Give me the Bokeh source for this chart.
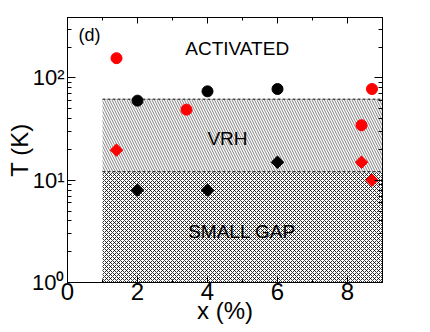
import numpy as np
from bokeh.plotting import figure
from bokeh.models import Range1d, FixedTicker, LinearAxis, LogAxis, Label
from bokeh.embed import file_html
from bokeh.resources import INLINE

# ---- data ----
black_circle_x = [2.0, 4.0, 6.0]
black_circle_T = [60, 74, 78]
red_circle_x = [1.4, 3.4, 8.4, 8.7]
red_circle_T = [156, 49, 34.5, 78]
black_diamond_x = [2.0, 4.0, 6.0]
black_diamond_T = [8, 8, 15]
red_diamond_x = [1.4, 8.4, 8.7]
red_diamond_T = [19.7, 15, 10]

region_x = [1.0, 9.0]
vrh_T = [12.1, 62]
gap_T = [1.0, 12.1]

x_ticks = [0, 2, 4, 6, 8]
x_minor = [1, 3, 5, 7, 9]
x_tick_labels = ["0", "2", "4", "6", "8"]
y_ticks = [1, 10, 100]
y_tick_labels = ["10\u2070", "10\u00b9", "10\u00b2"]
y_minor = [2, 3, 4, 5, 6, 7, 8, 9, 20, 30, 40, 50, 60, 70, 80, 90, 200, 300]

FONT = "Liberation Sans"

p = figure(x_range=Range1d(0, 9), y_range=Range1d(1, 390), y_axis_type="log",
           frame_width=315, frame_height=265,
           min_border_left=67, min_border_right=40, min_border_top=17, min_border_bottom=42,
           output_backend="svg", toolbar_location=None,
           background_fill_color="white", border_fill_color="white")
p.grid.visible = False
p.outline_line_color = "black"
p.outline_line_width = 1

# ---- shaded regions ----
p.quad(left=[region_x[0]], right=[region_x[1]], bottom=[vrh_T[0]], top=[vrh_T[1]],
       fill_color="white", line_color=None,
       hatch_pattern="left_diagonal_line", hatch_color="#808080", hatch_scale=5, hatch_weight=1)
p.quad(left=[region_x[0]], right=[region_x[1]], bottom=[gap_T[0]], top=[gap_T[1]],
       fill_color="white", line_color=None,
       hatch_pattern="diagonal_cross", hatch_color="black", hatch_scale=4, hatch_weight=1,
       hatch_alpha=0.8)
p.segment(x0=[region_x[0], region_x[0]], x1=[region_x[1], region_x[1]],
          y0=[vrh_T[1], gap_T[1]], y1=[vrh_T[1], gap_T[1]],
          line_color="black", line_width=1, line_dash="3 2")

# ---- points ----
p.scatter(black_circle_x, black_circle_T, marker="circle", size=11, color="black")
p.scatter(red_circle_x, red_circle_T, marker="circle", size=11, color="red")
p.scatter(black_diamond_x, black_diamond_T, marker="square", angle=np.pi / 4, size=8.8, color="black")
p.scatter(red_diamond_x, red_diamond_T, marker="square", angle=np.pi / 4, size=8.8, color="red")

# ---- axes ----
def style_axis(ax, major_in, minor_in):
    ax.axis_line_color = "black"
    ax.major_tick_line_color = "black"
    ax.minor_tick_line_color = "black"
    ax.major_tick_in = major_in
    ax.major_tick_out = 0
    ax.minor_tick_in = minor_in
    ax.minor_tick_out = 0

xb = p.xaxis[0]
xb.ticker = FixedTicker(ticks=x_ticks, minor_ticks=x_minor)
xb.major_label_overrides = {t: l for t, l in zip(x_ticks, x_tick_labels)}
xb.major_label_text_font = FONT
xb.major_label_text_font_size = "24px"
xb.major_label_text_color = "black"
xb.major_label_standoff = 0
xb.axis_label = "x (%)"
xb.axis_label_text_font = FONT
xb.axis_label_text_font_style = "normal"
xb.axis_label_text_font_size = "24px"
xb.axis_label_text_color = "black"
xb.axis_label_standoff = -6
style_axis(xb, 6, 3)

yl = p.yaxis[0]
yl.ticker = FixedTicker(ticks=y_ticks, minor_ticks=y_minor)
yl.major_label_overrides = {t: l for t, l in zip(y_ticks, y_tick_labels)}
yl.major_label_text_font = FONT
yl.major_label_text_font_size = "22px"
yl.major_label_text_color = "black"
yl.major_label_standoff = 3
yl.axis_label = "T (K)"
yl.axis_label_text_font = FONT
yl.axis_label_text_font_style = "normal"
yl.axis_label_text_font_size = "24px"
yl.axis_label_text_color = "black"
yl.axis_label_standoff = -4
style_axis(yl, 8, 4)

xt = LinearAxis(ticker=FixedTicker(ticks=x_ticks, minor_ticks=x_minor),
                major_label_overrides={t: "" for t in x_ticks}, major_label_standoff=0)
style_axis(xt, 6, 3)
p.add_layout(xt, "above")

yr = LogAxis(ticker=FixedTicker(ticks=y_ticks, minor_ticks=y_minor),
             major_label_overrides={t: "" for t in y_ticks}, major_label_standoff=0)
style_axis(yr, 8, 4)
p.add_layout(yr, "right")

def lab(x, y, text, size, align="left"):
    # x, y: canvas pixels from top-left
    return Label(x=x, y=y, x_units="canvas", y_units="canvas", text=text,
                 text_align=align, text_baseline="alphabetic", text_font=FONT,
                 text_font_size=size, text_color="black")

# ---- in-plot texts ----
p.add_layout(lab(78, 34, "(d)", "18px"))
p.add_layout(lab(236.7, 48, "ACTIVATED", "19px", align="center"))
p.add_layout(lab(227, 138, "VRH", "19px", align="center"))
p.add_layout(lab(241.5, 231, "SMALL GAP", "19px", align="center"))

open("out.html", "w").write(file_html(p, INLINE))
